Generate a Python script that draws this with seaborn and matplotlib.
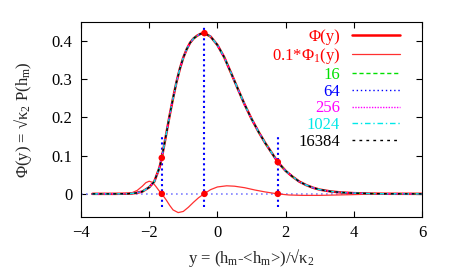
import numpy as np
import pandas as pd
import seaborn as sns
import matplotlib.pyplot as plt

# values
y_vals = [-3.66, -3.0, -2.6, -2.4, -2.2, -2.0, -1.85, -1.7, -1.63, -1.5, -1.4, -1.3,
          -1.2, -1.1, -1.0, -0.9, -0.8, -0.7, -0.6, -0.5, -0.38, -0.2, 0.0, 0.2, 0.4,
          0.6, 0.8, 1.0, 1.2, 1.4, 1.6, 1.77, 2.0, 2.2, 2.4, 2.6, 2.8, 3.0, 3.3, 3.6,
          4.0, 4.5, 5.0, 6.0]
phi = [0.0, 0.0, 0.0005, 0.002, 0.006, 0.017, 0.032, 0.068, 0.094, 0.156, 0.205, 0.25,
       0.292, 0.327, 0.356, 0.378, 0.395, 0.406, 0.413, 0.418, 0.420, 0.411, 0.389, 0.357,
       0.316, 0.274, 0.233, 0.196, 0.163, 0.133, 0.106, 0.083, 0.060, 0.045, 0.032, 0.023,
       0.016, 0.011, 0.0065, 0.0038, 0.0018, 0.0006, 0.0002, 0.0]

y1_vals = [-3.66, -3.0, -2.7, -2.5, -2.35, -2.2, -2.1, -2.0, -1.9, -1.8, -1.7, -1.63,
           -1.5, -1.4, -1.3, -1.15, -1.0, -0.85, -0.7, -0.55, -0.39, -0.2, 0.0, 0.27,
           0.5, 0.8, 1.1, 1.4, 1.76, 2.1, 2.5, 3.0, 3.5, 4.0, 4.8, 6.0]
phi1_scaled = [0.0, 0.0, 0.0005, 0.003, 0.009, 0.02, 0.029, 0.033, 0.030, 0.019, 0.007, 0.0,
               -0.016, -0.030, -0.042, -0.049, -0.046, -0.035, -0.022, -0.010, 0.0, 0.011,
               0.018, 0.021, 0.020, 0.016, 0.010, 0.005, 0.0, -0.003, -0.004, -0.004,
               -0.003, -0.002, 0.0, 0.0]

sizes = ['16', '64', '256', '1024', '16384']
size_colors = ['#00e000', '#0000ff', '#ff00ff', '#00e8e8', 'black']
size_styles = [(0, (3, 2)), (0, (1, 2)), (0, (1, 1)), (0, (4, 2, 1, 2)), (0, (2, 3))]

dot_x = [-1.63, -0.38, 1.77, -1.63, -0.38, 1.77]
dot_y = [0.094, 0.420, 0.083, 0.0, 0.0, 0.0]

vline_x = [-1.63, -0.38, 1.77]
vline_top = [0.153, 0.44, 0.153]
vline_bottom = [-0.035, -0.035, -0.035]

sns.set_theme(style='ticks')
plt.rcParams['font.family'] = ['Liberation Serif', 'DejaVu Serif']
plt.rcParams['mathtext.fontset'] = 'custom'
plt.rcParams['mathtext.rm'] = 'Liberation Serif'
plt.rcParams['mathtext.it'] = 'Liberation Serif:italic'

df = pd.DataFrame({'y': y_vals, 'phi': phi})
df1 = pd.DataFrame({'y': y1_vals, 'phi1': phi1_scaled})

fig = plt.figure(figsize=(4.52, 2.71), dpi=100)
ax = fig.add_axes([0.179, 0.200, 0.755, 0.720])

ax.axhline(0, color='#8080ff', lw=1.2, ls=(0, (1, 2)), zorder=1)
ax.vlines(vline_x, vline_bottom, vline_top, colors='#0000ff', lw=1.5, linestyles=(0, (1, 1.5)), zorder=2)

sns.lineplot(data=df, x='y', y='phi', color='red', lw=1.8, label='Φ(y)', ax=ax, zorder=3)
sns.lineplot(data=df1, x='y', y='phi1', color='#ff3030', lw=0.9, label='0.1*Φ$_1$(y)', ax=ax, zorder=3)
for name, c, st in zip(sizes, size_colors, size_styles):
    sns.lineplot(data=df, x='y', y='phi', color=c, lw=1.0, ls=st, label=name, ax=ax, zorder=4)

sns.scatterplot(x=dot_x, y=dot_y, color='red', s=22, edgecolor='none', ax=ax, zorder=6)

ax.set_xlim(-4, 6)
ax.set_ylim(-0.06, 0.45)
ax.set_xticks([-4, -2, 0, 2, 4, 6])
ax.set_yticks([0, 0.1, 0.2, 0.3, 0.4])
ax.set_yticklabels(['0', '0.1', '0.2', '0.3', '0.4'])
ax.tick_params(direction='in', top=True, right=True, length=4, width=0.8, labelsize=12,
               colors='black', pad=6)
for s in ax.spines.values():
    s.set_color('black')
    s.set_linewidth(0.8)
ax.set_xlabel('y = (h$_\\mathrm{m}$-<h$_\\mathrm{m}$>)/√κ$_2$', fontsize=12, labelpad=4)
ax.set_ylabel('Φ(y) = √κ$_2$ P(h$_\\mathrm{m}$)', fontsize=12, labelpad=13)

leg_colors = ['red', 'red'] + size_colors
leg = ax.legend(loc='upper right', bbox_to_anchor=(0.935, 0.962), frameon=False,
                markerfirst=False, fontsize=12, handlelength=2.9, labelspacing=0.05,
                borderaxespad=0, borderpad=0, handletextpad=0.7)
for t, c in zip(leg.get_texts(), leg_colors):
    t.set_color(c)

fig.savefig('out.png', dpi=100)
